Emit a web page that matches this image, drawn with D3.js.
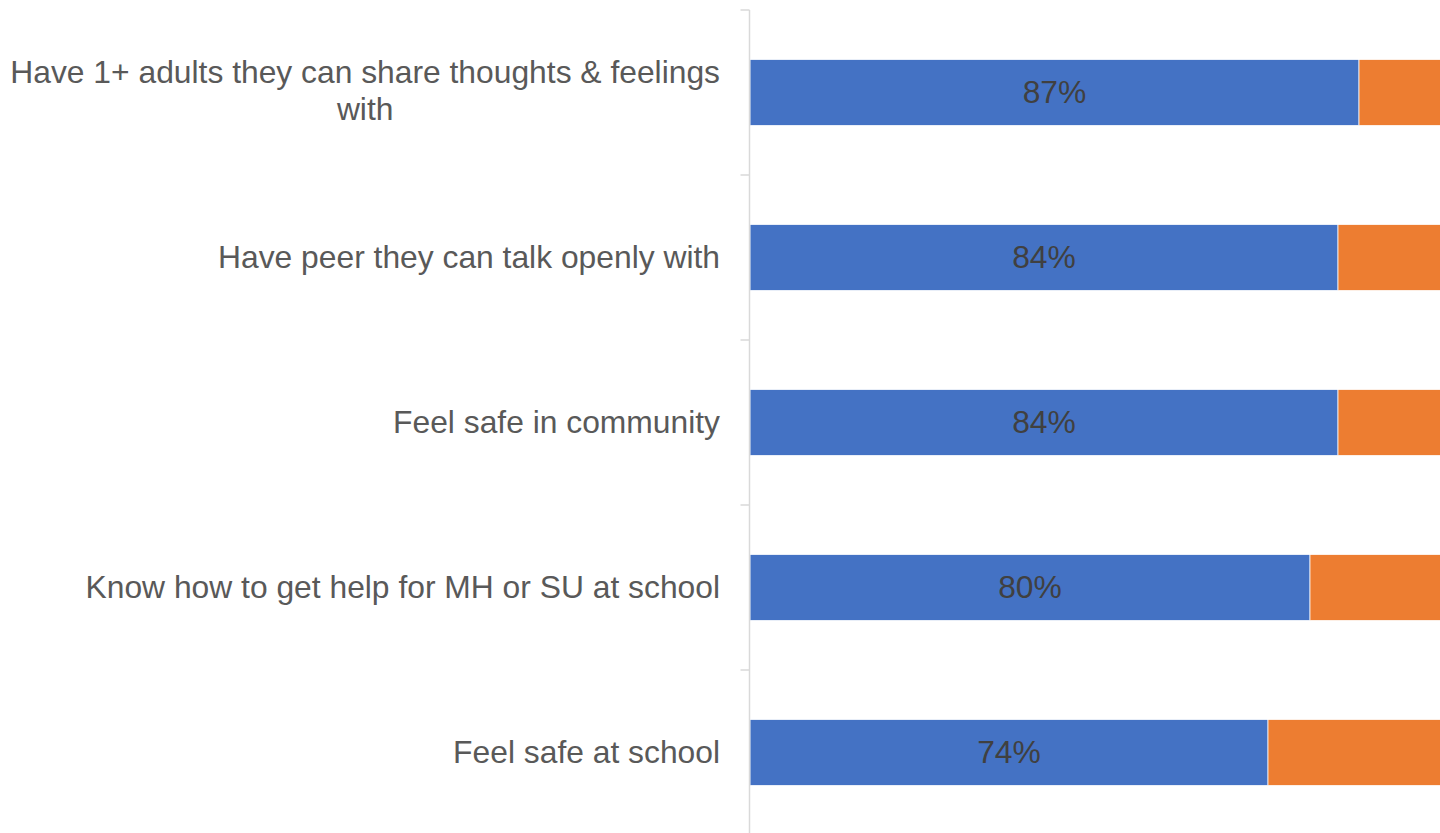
<!DOCTYPE html>
<html>
<head>
<meta charset="utf-8">
<script src="https://cdn.jsdelivr.net/npm/d3@7"></script>
<style>
  html, body { margin: 0; padding: 0; background: #fff; overflow: hidden; }
  svg { display: block; font-family: "Liberation Sans", Arial, sans-serif; }
</style>
</head>
<body>
<svg id="chart" width="1440" height="833"></svg>
<script>
const categories = [
  "Have 1+ adults they can share thoughts & feelings with",
  "Have peer they can talk openly with",
  "Feel safe in community",
  "Know how to get help for MH or SU at school",
  "Feel safe at school"
];
const yesValues = [87, 84, 84, 80, 74];
const noValues = [13, 16, 16, 20, 26];
const seriesNames = ["Yes", "No"];
const seriesColors = ["#4472C4", "#ED7D31"];

const svg = d3.select("#chart");
const fontSize = 31.8;

const x = d3.scaleLinear().domain([0, 100]).range([750, 1450]);
const y = d3.scaleBand().domain(categories).range([10, 835]).paddingInner(0.6).paddingOuter(0.3);

const rows = categories.map((c, i) => ({ cat: c, Yes: yesValues[i], No: noValues[i] }));
const stacked = d3.stack().keys(seriesNames)(rows);

// bars
svg.append("g").selectAll("g")
  .data(stacked)
  .join("g")
  .attr("fill", (d, i) => seriesColors[i])
  .selectAll("rect")
  .data(d => d)
  .join("rect")
  .attr("x", d => x(d[0]))
  .attr("y", d => y(d.data.cat))
  .attr("width", d => x(d[1]) - x(d[0]))
  .attr("height", y.bandwidth())
  .attr("stroke", "#fff")
  .attr("stroke-width", 0.75);

// data labels for first series
svg.append("g").selectAll("text")
  .data(stacked[0])
  .join("text")
  .attr("x", d => (x(d[0]) + x(d[1])) / 2)
  .attr("y", d => y(d.data.cat) + y.bandwidth() / 2)
  .attr("dy", "0.34em")
  .attr("text-anchor", "middle")
  .attr("fill", "#404040")
  .attr("font-size", fontSize)
  .text(d => (d[1] - d[0]) + "%");

// category axis: line with ticks between categories
const step = y.step();
const boundaries = categories.map(c => y(c) - step * y.paddingInner() / 2);
boundaries.push(y(categories[categories.length - 1]) + y.bandwidth() + step * y.paddingInner() / 2);
const axisX = 749.5;
const axis = svg.append("g").attr("stroke", "#D9D9D9").attr("stroke-width", 1.5);
axis.append("line").attr("x1", axisX).attr("x2", axisX).attr("y1", boundaries[0]).attr("y2", boundaries[boundaries.length - 1]);
axis.selectAll("line.tick").data(boundaries).join("line").attr("class", "tick")
  .attr("x1", axisX - 9).attr("x2", axisX).attr("y1", d => d).attr("y2", d => d);

// category labels with wrapping
const maxW = 725;
const labelRight = 720;
const lineH = 37;
const labels = svg.append("g").attr("fill", "#595959").attr("font-size", fontSize);
categories.forEach(c => {
  const cy = y(c) + y.bandwidth() / 2;
  const t = labels.append("text");
  const words = c.split(" ");
  const lines = [];
  let cur = [];
  words.forEach(w => {
    const test = cur.concat([w]).join(" ");
    t.text(test);
    if (t.node().getComputedTextLength() > maxW && cur.length) {
      lines.push(cur.join(" "));
      cur = [w];
    } else {
      cur.push(w);
    }
  });
  lines.push(cur.join(" "));
  t.text(null);
  let W = 0;
  lines.forEach(l => {
    t.text(l); W = Math.max(W, t.node().getComputedTextLength());
  });
  t.text(null);
  const cx = labelRight - W / 2;
  t.attr("text-anchor", "middle");
  const n = lines.length;
  const shift = n > 1 ? -1.5 : 0;
  lines.forEach((l, i) => {
    t.append("tspan")
      .attr("x", cx)
      .attr("y", cy + shift + (i - (n - 1) / 2) * lineH)
      .attr("dy", "0.32em")
      .text(l);
  });
});
</script>
</body>
</html>
